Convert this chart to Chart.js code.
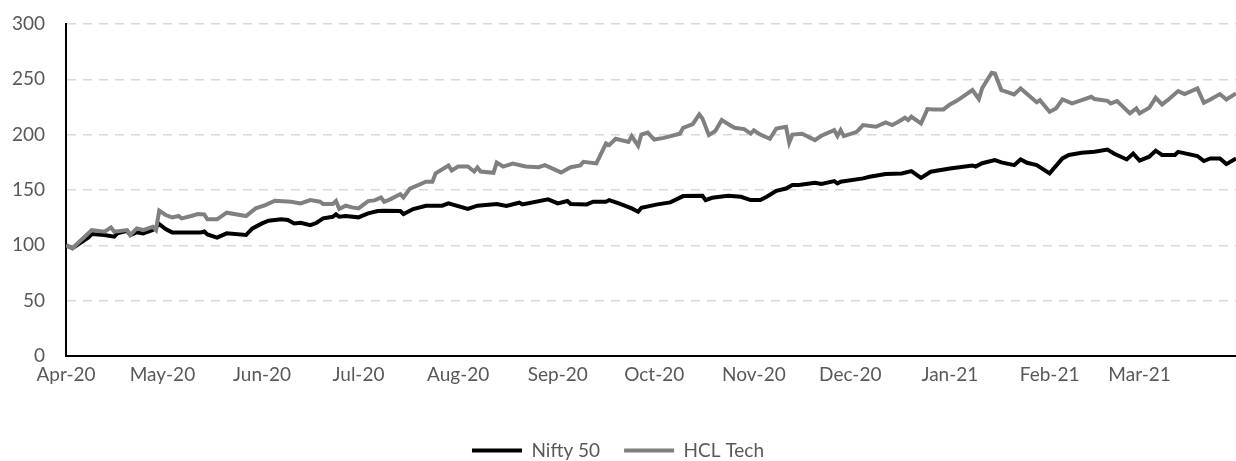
<!DOCTYPE html>
<html>
<head>
<meta charset="utf-8">
<script src="https://cdn.jsdelivr.net/npm/chart.js@4.4.1/dist/chart.umd.min.js"></script>
<style>
  html, body { margin: 0; padding: 0; background: #fff; }
  #wrap { width: 1236px; height: 461px; }
</style>
</head>
<body>
<div id="wrap"><canvas id="line-chart"></canvas></div>
<script>
// x = calendar days since 1 Apr 2020
const monthLabels = ['Apr-20','May-20','Jun-20','Jul-20','Aug-20','Sep-20','Oct-20','Nov-20','Dec-20','Jan-21','Feb-21','Mar-21'];
const monthStarts = [0, 30, 61, 91, 122, 153, 183, 214, 244, 275, 306, 334];
const yTicks = [0, 50, 100, 150, 200, 250, 300];

const niftyDays = [0,2,7,8,12,15,16,19,20,22,24,27,29,31,33,36,42,43,44,47,50,56,58,61,63,67,69,71,73,76,78,80,83,84,85,87,91,94,97,99,104,105,108,112,117,119,125,128,134,137,141,142,150,153,156,157,162,164,168,169,172,176,178,179,184,188,192,198,199,201,206,210,213,216,218,221,224,226,228,233,235,239,240,241,248,250,255,260,263,266,269,275,282,283,285,289,291,295,297,299,302,306,310,312,316,320,324,326,330,332,334,337,339,341,345,346,352,354,356,359,361,364];
const niftyValues = [100,97.3,107.2,110.2,109.3,107.8,110.8,113.2,109.3,111.7,110.8,113.8,119.2,114.7,111.7,111.7,111.7,112.5,109.9,106.9,110.8,109.3,115.3,119.8,122.2,123.5,122.9,119.8,120.4,118.3,120.4,124.4,125.8,128,125.8,126.5,125.3,128.9,131,131.3,131,128.3,132.8,135.8,135.8,137.9,133,135.8,137.3,135.5,138.5,137,141.5,137.9,140,137.3,137,139.4,139.4,140.9,137.9,133.4,130.4,134,137,138.8,144.5,144.8,140.9,143,144.8,143.9,140.9,140.9,143.9,149.3,151.3,154.5,154.5,156.5,155.5,158,155.9,157.5,160.5,161.9,164.4,165,167.1,161,166.5,169.5,172.2,171.2,174.2,177,174.9,172.5,177.6,174.6,172.5,165,178.5,181.6,183.6,184.5,186.6,183,177.6,183,176.5,180.1,185.5,181.6,181.6,184.5,180.7,176.2,178.5,178.5,173.4,178.5];

const hclDays = [0,2,8,12,14,15,19,20,22,24,27,28,29,31,33,35,36,39,41,43,44,47,50,56,59,62,65,70,73,76,79,80,83,84,85,87,89,91,94,96,98,99,101,104,105,107,112,114,115,119,120,122,125,127,128,129,133,134,136,139,143,147,149,154,157,160,161,165,168,169,171,175,176,178,179,181,183,186,191,192,195,197,198,200,202,204,207,208,211,213,214,216,219,221,224,225,226,229,233,235,239,240,241,242,246,248,252,255,257,259,261,262,263,266,268,270,273,275,277,282,284,285,288,289,291,295,297,299,302,303,306,308,310,313,316,319,320,324,325,327,331,333,334,337,339,341,343,346,348,352,354,356,359,361,364];
const hclValues = [100,97.3,113.8,112.3,116.2,112.3,113.8,109.3,115.3,113.8,116.8,113.8,131.3,127.4,125.3,126.5,124.4,126.5,128.3,128,123.5,123.5,129.5,126.5,133.4,136.4,140.3,139.4,137.9,140.9,139.4,137.3,137.3,140,132.8,135.8,134.3,133.4,140,140.6,143.3,139.4,141.8,146.3,143.3,151.3,157.5,157.5,165.1,172.2,167.6,171.2,171.2,166.7,170.3,166.7,165.6,174.8,171.2,173.9,171.2,170.6,172.5,165.9,170.6,172.2,175.5,174,192,190.6,196.3,193.5,198.7,189.9,200.1,201.9,195.6,197.1,200.9,206.2,209.6,218.3,214.7,199.6,203.3,213.2,207.8,206.2,205,200.9,203.9,200.1,196.3,205.6,207.1,192.7,200.1,200.9,195.1,199,204.1,198.7,204.1,198.7,202.6,208.7,207.1,211.1,208.7,211.7,215.3,213.2,216.2,210.1,223.1,222.8,222.8,227.3,230.3,240.3,232.2,241.8,255.9,255.3,240.3,236.3,241.8,236.7,229.2,231.2,220.7,223.7,231.8,228.2,231.2,234.2,232.2,230.6,228.2,230.3,219.2,223.7,219.2,224.3,233.3,227.3,231.8,239.4,236.7,241.8,228.8,231.8,236.7,231.8,237.2];

const toPoints = (xs, ys) => xs.map((x, i) => ({ x: x, y: ys[i] }));
const tickFont = { family: 'Lato', size: 19 };

// push the legend down toward the bottom edge (keeps wide gap between items)
const legendNudge = {
    id: 'legendNudge',
    afterLayout(chart) {
        chart.legend.top += 9;
        chart.legend.bottom += 9;
    }
};

new Chart(document.getElementById('line-chart'), {
    type: 'line',
    data: {
        datasets: [
            {
                label: 'Nifty 50',
                data: toPoints(niftyDays, niftyValues),
                borderColor: '#000000',
                backgroundColor: '#000000',
                borderWidth: 4,
                pointRadius: 0,
                tension: 0,
                order: 1
            },
            {
                label: 'HCL Tech',
                data: toPoints(hclDays, hclValues),
                borderColor: '#808080',
                backgroundColor: '#808080',
                borderWidth: 4,
                pointRadius: 0,
                tension: 0,
                order: 0
            }
        ]
    },
    plugins: [legendNudge],
    options: {
        responsive: true,
        maintainAspectRatio: false,
        animation: false,
        layout: { padding: { top: 24, right: 0, left: 0, bottom: 0 } },
        plugins: {
            tooltip: { enabled: false },
            legend: {
                position: 'bottom',
                labels: {
                    font: tickFont,
                    color: '#595959',
                    boxWidth: 50,
                    boxHeight: 4,
                    padding: 24,
                    generateLabels: (chart) =>
                        Chart.defaults.plugins.legend.labels.generateLabels(chart)
                            .map(item => Object.assign(item, { lineWidth: 0 })),
                    sort: (a, b) => a.datasetIndex - b.datasetIndex
                }
            }
        },
        scales: {
            x: {
                type: 'linear',
                min: 0,
                max: 364,
                afterBuildTicks: (scale) => {
                    scale.ticks = monthStarts.map(v => ({ value: v }));
                },
                afterFit: (scale) => { scale.height = 52; },
                ticks: {
                    font: tickFont,
                    color: '#595959',
                    padding: 7,
                    maxRotation: 0,
                    autoSkip: false,
                    callback: (value, index) => monthLabels[index]
                },
                grid: { display: false, drawTicks: false },
                border: { display: true, color: '#000000', width: 2 }
            },
            y: {
                min: 0,
                max: 300,
                afterBuildTicks: (scale) => {
                    scale.ticks = yTicks.map(v => ({ value: v }));
                },
                afterFit: (scale) => { scale.width = 66; },
                ticks: {
                    font: tickFont,
                    color: '#595959',
                    padding: 3
                },
                grid: {
                    color: '#d9d9d9',
                    lineWidth: 1.5,
                    drawTicks: true,
                    tickLength: 18,
                    tickColor: 'rgba(0,0,0,0)'
                },
                border: { display: true, color: '#000000', width: 2, dash: [9, 7] }
            }
        }
    }
});
</script>
</body>
</html>
